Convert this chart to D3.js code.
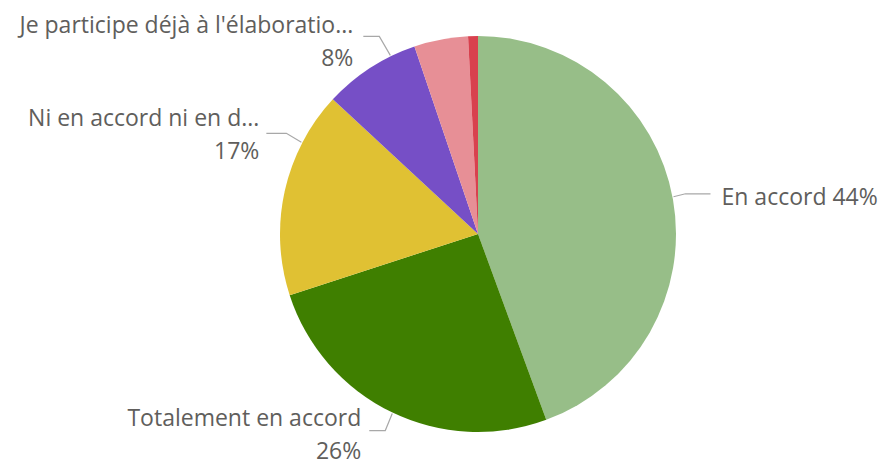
<!DOCTYPE html>
<html><head><meta charset="utf-8">
<script src="https://cdn.jsdelivr.net/npm/d3@7"></script>
<style>body{margin:0;background:#fff}svg{display:block}</style>
</head><body>
<svg id="c" width="885" height="467"></svg>
<script>
const categories = ["En accord","Totalement en accord","Ni en accord ni en désaccord","Je participe déjà à l'élaboration","Pas d'accord","Pas du tout d'accord"];
const values = [44.4, 25.6, 16.9, 7.9, 4.4, 0.8];
const labelNames = ["En accord","Totalement en accord","Ni en accord ni en d...","Je participe déjà à l'élaboratio...",null,null];
const pctLabels = ["44%","26%","17%","8%",null,null];
const colors = ["#97BE88","#3F7F00","#E0C133","#764FC6","#E78F96","#D8414E"];

const svg = d3.select("#c");
const cx = 478, cy = 234, R = 198;
const g = svg.append("g").attr("transform",`translate(${cx},${cy})`);
const pie = d3.pie().sort(null).value(d=>d)(values);
const arc = d3.arc().innerRadius(0).outerRadius(R);
g.selectAll("path").data(pie).join("path").attr("d",arc).attr("fill",(d,i)=>colors[i]);

// label layout: angle offset (deg) of leader start, elbow & end, text offset from leader end
const layout = [
  {da:-0.7, pts:[[12,-3],[37,-3]], tx:11, ty:11, anchor:"start", inline:true},
  {da:-0.4, pts:[[-7,17],[-23,17]], tx:-8, ty:-5, anchor:"end"},
  {da:15, pts:[[-15,-9],[-35,-9]], tx:-7, ty:-7, anchor:"end"},
  {da:6.8, pts:[[-11,-19],[-27,-19]], tx:-10, ty:-3, anchor:"end"}
];
const font = "'Open Sans', 'Segoe UI', sans-serif";
pie.forEach((d,i)=>{
  if(!labelNames[i]) return;
  const L = layout[i];
  const a = (d.startAngle+d.endAngle)/2 + L.da*Math.PI/180;
  const sx = cx + (R+1)*Math.sin(a), sy = cy - (R+1)*Math.cos(a);
  const p = [[sx,sy]].concat(L.pts.map(q=>[sx+q[0], sy+q[1]]));
  svg.append("path").attr("d", d3.line()(p)).attr("fill","none").attr("stroke","#A8A8A8").attr("stroke-width",1.2);
  const ex = p[p.length-1][0], ey = p[p.length-1][1];
  const t = svg.append("text").attr("font-family",font).attr("font-size",23).attr("fill","#605E5C").attr("text-anchor",L.anchor);
  if(L.inline){
    t.attr("x", ex + L.tx).attr("y", ey + L.ty).text(labelNames[i]+" "+pctLabels[i]);
  } else {
    t.append("tspan").attr("x", ex+L.tx).attr("y", ey+L.ty).text(labelNames[i]);
    t.append("tspan").attr("x", ex+L.tx).attr("y", ey+L.ty+33).text(pctLabels[i]);
  }
});
</script>
</body></html>
